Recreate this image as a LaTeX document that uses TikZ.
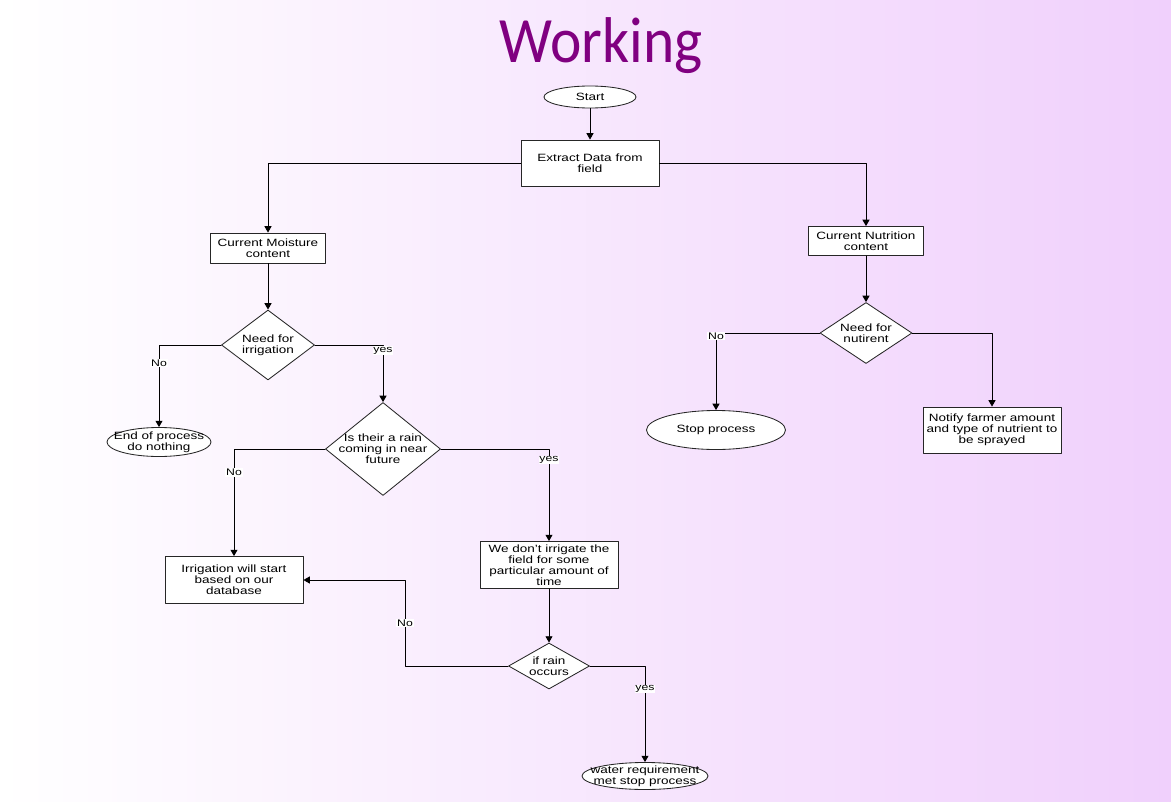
\documentclass[tikz,border=0pt]{standalone}
\usepackage{fontspec}
\setmainfont{Liberation Sans}[FakeStretch=1.28]
\newfontfamily\titlefont{Carlito}[FakeStretch=0.92]
\usetikzlibrary{shapes.geometric,arrows.meta}
\definecolor{bgpurple}{RGB}{240,208,252}
\definecolor{titlepurple}{RGB}{128,0,128}
\begin{document}
\begin{tikzpicture}[x=0.025cm, y=-0.025cm, line cap=round, line join=round,
    box/.style={draw=black!85, fill=white, line width=0.6pt, inner sep=1pt,
      align=center, font=\fontsize{7.5}{7.8}\selectfont},
    oval/.style={ellipse, draw=black!85, fill=white, line width=0.6pt, inner sep=0pt},
    choice/.style={diamond, draw=black!85, fill=white, line width=0.6pt, inner sep=0pt},
    txt/.style={align=center, inner sep=0pt, font=\fontsize{7.5}{7.8}\selectfont},
    flow/.style={line width=0.6pt, -{Triangle[length=4.5pt,width=5pt]}},
    yn/.style={fill=white, inner sep=0.6pt, font=\fontsize{6.8}{7}\selectfont}]
  % background
  \fill[left color=white, right color=bgpurple] (0,0) rectangle (1171,802);
  \node[font=\titlefont\fontsize{46}{46}\selectfont, text=titlepurple, anchor=base]
    (title) at (601,62) {Working};
  % top
  \node[oval, minimum width=2.3cm, minimum height=0.55cm, txt] (start) at (590,97) {Start};
  \node[box, minimum width=3.45cm, minimum height=1.15cm] (extract) at (590,163) {Extract Data from\\field};
  % (a) moisture branch
  \node[box, minimum width=2.875cm, minimum height=0.75cm] (moist) at (268,248) {Current Moisture\\content};
  \node[choice, minimum width=2.325cm, minimum height=1.75cm,
    label={[txt]center:{Need for\\irrigation}}] (need) at (268,345) {};
  \node[oval, minimum width=2.6cm, minimum height=0.725cm,
    label={[txt]center:{End of process\\do nothing}}] (endp) at (159,442) {};
  \node[choice, minimum width=2.875cm, minimum height=2.325cm,
    label={[txt]center:{Is their a rain\\coming in near\\future}}] (rain) at (383,449) {};
  \node[box, minimum width=3.45cm, minimum height=1.175cm] (irrig) at (234,580) {Irrigation will start\\based on our\\database};
  \node[box, minimum width=3.45cm, minimum height=1.175cm] (wait) at (549,565) {We don't irrigate the\\field for some\\particular amount of\\time};
  \node[choice, minimum width=2.025cm, minimum height=1.15cm,
    label={[txt]center:{if rain\\occurs}}] (occur) at (549,666) {};
  \node[oval, minimum width=3.15cm, minimum height=0.675cm,
    label={[txt]center:{water requirement\\met stop process}}] (final) at (645,776) {};
  % (b) nutrition branch
  \node[box, minimum width=2.875cm, minimum height=0.725cm] (nutri) at (866,241) {Current Nutrition\\content};
  \node[choice, minimum width=2.3cm, minimum height=1.525cm,
    label={[txt]center:{Need for\\nutirent}}] (nutneed) at (866,333) {};
  \node[oval, minimum width=3.475cm, minimum height=0.975cm, txt] (stop) at (716,430) {Stop process};
  \node[box, minimum width=3.45cm, minimum height=1.15cm] (notify) at (992,430) {Notify farmer amount\\and type of nutrient to\\be sprayed};
  % connectors
  \draw[flow] (start) -- (extract);
  \draw[flow] (extract.west) -| (moist.north);
  \draw[flow] (extract.east) -| (nutri.north);
  \draw[flow] (moist) -- (need);
  \draw[flow] (need.west) -| node[yn, pos=0.61] {No} (endp.north);
  \draw[flow] (need.east) -| node[yn, pos=0.55] {yes} (rain.north);
  \draw[flow] (rain.west) -| node[yn, pos=0.61] {No} (irrig.north);
  \draw[flow] (rain.east) -| node[yn, pos=0.56] {yes} (wait.north);
  \draw[flow] (wait) -- (occur);
  \draw[flow] (occur.west) -- ++(-103,0) |- node[yn, pos=0.25] {No} (irrig.east);
  \draw[flow] (occur.east) -| node[yn, pos=0.62] {yes} (final.north);
  \draw[flow] (nutri) -- (nutneed);
  \draw[flow] (nutneed.west) -| node[yn, pos=0.52] {No} (stop.north);
  \draw[flow] (nutneed.east) -| (notify.north);
\end{tikzpicture}
\end{document}
